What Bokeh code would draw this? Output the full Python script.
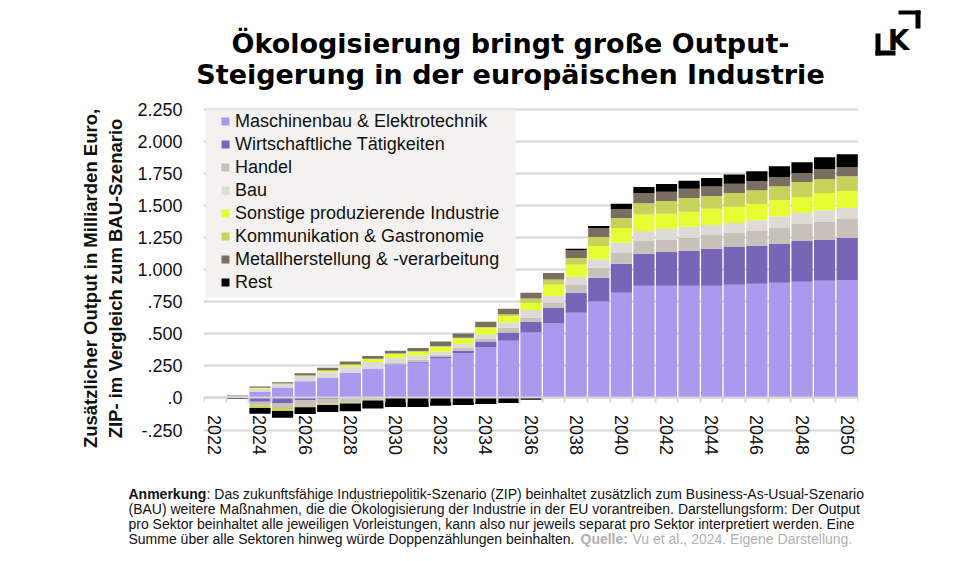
import numpy as np
from bokeh.plotting import figure
from bokeh.layouts import column
from bokeh.models import (Range1d, FixedTicker, Legend, LegendItem,
                          BoxAnnotation, ColumnDataSource)
from bokeh.core.properties import value
from bokeh.embed import file_html
from bokeh.resources import INLINE

# ---------------- data ----------------
years = list(range(2022, 2051))
label_years = list(range(2022, 2051, 2))

series_names = [
    "Maschinenbau & Elektrotechnik",
    "Wirtschaftliche Tätigkeiten",
    "Handel",
    "Bau",
    "Sonstige produzierende Industrie",
    "Kommunikation & Gastronomie",
    "Metallherstellung & -verarbeitung",
    "Rest",
]
series_colors = ["#aa99ee", "#7766b8", "#c8c1b9", "#dedad5", "#e6fd33",
                 "#c6d25a", "#7a6e63", "#000000"]

maschinenbau = [0, 0.005, 0.051, 0.082, 0.130, 0.159, 0.198, 0.229, 0.260, 0.274,
                0.310, 0.348, 0.394, 0.447, 0.510, 0.580, 0.665, 0.753, 0.820, 0.875,
                0.875, 0.875, 0.875, 0.883, 0.890, 0.898, 0.906, 0.914, 0.921]
wirtschaft = [0, 0.0, -0.030, -0.039, -0.016, -0.008, -0.003, 0.0, 0.002, 0.008,
              0.012, 0.021, 0.046, 0.063, 0.085, 0.122, 0.155, 0.184, 0.226, 0.249,
              0.264, 0.274, 0.288, 0.295, 0.296, 0.303, 0.319, 0.319, 0.327]
handel = [0, 0.004, -0.028, -0.039, -0.046, -0.037, -0.032, -0.015, 0.015, 0.015,
          0.015, 0.020, 0.022, 0.040, 0.033, 0.043, 0.062, 0.078, 0.085, 0.101,
          0.093, 0.099, 0.108, 0.109, 0.116, 0.125, 0.132, 0.140, 0.148]
bau = [0, 0.004, 0.020, 0.028, 0.042, 0.041, 0.045, 0.052, 0.035, 0.034,
       0.025, 0.032, 0.033, 0.040, 0.058, 0.050, 0.063, 0.067, 0.081, 0.077,
       0.088, 0.088, 0.078, 0.078, 0.084, 0.091, 0.086, 0.091, 0.085]
sonstige = [0, 0.0, 0.008, 0.003, 0.004, 0.014, 0.017, 0.024, 0.032, 0.031,
            0.038, 0.043, 0.052, 0.050, 0.057, 0.090, 0.095, 0.104, 0.114, 0.128,
            0.117, 0.117, 0.127, 0.127, 0.126, 0.127, 0.124, 0.134, 0.133]
kommunikation = [0, 0.0, -0.020, -0.023, -0.011, -0.010, -0.008, -0.005, 0.002, 0.003,
                 0.004, 0.005, 0.006, 0.012, 0.032, 0.038, 0.052, 0.070, 0.078, 0.088,
                 0.099, 0.106, 0.099, 0.106, 0.109, 0.108, 0.117, 0.109, 0.115]
metall = [0, 0.007, 0.010, 0.010, 0.017, 0.021, 0.024, 0.023, 0.023, 0.025,
          0.036, 0.034, 0.042, 0.043, 0.045, 0.052, 0.060, 0.070, 0.070, 0.080,
          0.072, 0.073, 0.075, 0.072, 0.070, 0.070, 0.070, 0.078, 0.071]
rest = [0, -0.008, -0.045, -0.054, -0.053, -0.055, -0.060, -0.062, -0.070, -0.070,
        -0.060, -0.055, -0.048, -0.040, -0.015, 0.0, 0.011, 0.015, 0.041, 0.047,
        0.060, 0.062, 0.065, 0.073, 0.078, 0.086, 0.085, 0.093, 0.101]

series_values = [maschinenbau, wirtschaft, handel, bau, sonstige, kommunikation, metall, rest]

y_ticks = [-0.25, 0.0, 0.25, 0.5, 0.75, 1.0, 1.25, 1.5, 1.75, 2.0, 2.25]
y_tick_labels = ["-.250", ".0", ".250", ".500", ".750", "1.000", "1.250",
                 "1.500", "1.750", "2.000", "2.250"]

title_lines = ["Ökologisierung bringt große Output-",
               "Steigerung in der europäischen Industrie"]
y_axis_title = "Zusätzlicher Output in Milliarden Euro,\nZIP- im Vergleich zum BAU-Szenario"
note_head = "Anmerkung"
note_first = ": Das zukunftsfähige Industriepolitik-Szenario (ZIP) beinhaltet zusätzlich zum Business-As-Usual-Szenario"
note_lines = [
    "(BAU) weitere Maßnahmen, die die Ökologisierung der Industrie in der EU vorantreiben. Darstellungsform: Der Output",
    "pro Sektor beinhaltet alle jeweiligen Vorleistungen, kann also nur jeweils separat pro Sektor interpretiert werden. Eine",
]
note_last = "Summe über alle Sektoren hinweg würde Doppenzählungen beinhalten."
source_head = "Quelle:"
source_text = "Vu et al., 2024. Eigene Darstellung."

# ---------------- layout constants (page px) ----------------
W = 960
TOP_H = 96            # title strip
FL, FR = 203, 858     # frame left/right
PPU = 128.2           # px per 1.000 on y
FRAME_H = 360
EXTRA_TOP = 11        # px of frame above the 2.250 grid line
GRID = "#d6d6d6"
FONT = "Liberation Sans"
TXT = "#111111"


def text_strip(height):
    f = figure(width=W, height=height, output_backend="svg", toolbar_location=None,
               x_range=Range1d(0, W), y_range=Range1d(height, 0),
               x_axis_type=None, y_axis_type=None, frame_align=False,
               min_border=0, min_border_left=0, min_border_right=0,
               min_border_top=0, min_border_bottom=0)
    f.outline_line_color = None
    f.xgrid.visible = False
    f.ygrid.visible = False
    f.border_fill_color = "white"
    return f


# ---------------- title strip ----------------
top = text_strip(TOP_H)
top.text(x=[510, 510], y=[43, 74], text=title_lines, text_font=value("DejaVu Sans"),
         text_font_style="bold", text_font_size="27px", text_align="center",
         text_baseline="alphabetic", text_color="#000000")
# logo
top.quad(left=[898, 915, 875, 875], right=[920, 920, 880, 895],
         top=[10, 10, 33, 50], bottom=[14, 28, 55, 55],
         fill_color="#000000", line_color=None)
top.text(x=[898], y=[40], text=["K"], text_font=value("DejaVu Sans"), text_font_style="bold",
         text_font_size="28px", text_align="center", text_baseline="alphabetic",
         text_color="#000000")

# ---------------- main chart ----------------
y_end = y_ticks[-1] + EXTRA_TOP / PPU
y_start = y_end - FRAME_H / PPU
p = figure(width=W, height=FRAME_H + 4, output_backend="svg", toolbar_location=None,
           x_range=Range1d(years[0] - 0.5, years[-1] + 0.5),
           y_range=Range1d(y_start, y_end), frame_align=False,
           min_border_left=FL, min_border_right=W - FR,
           min_border_top=2, min_border_bottom=2)
p.outline_line_color = None
p.background_fill_color = "white"
p.border_fill_color = "white"

x = np.array(years, dtype=float)
pos_cum = np.zeros(len(years))
neg_cum = np.zeros(len(years))
renderers = []
for name, vals, col in zip(series_names, series_values, series_colors):
    v = np.array(vals, dtype=float)
    bottom = np.where(v >= 0, pos_cum, neg_cum + v)
    topv = np.where(v >= 0, pos_cum + v, neg_cum)
    pos_cum = pos_cum + np.where(v >= 0, v, 0)
    neg_cum = neg_cum + np.where(v < 0, v, 0)
    src = ColumnDataSource(dict(x=x, bottom=bottom, top=topv))
    r = p.vbar(x="x", width=0.94, bottom="bottom", top="top", source=src,
               fill_color=col, line_color=None)
    renderers.append(r)

xax = p.xaxis[0]
xax.fixed_location = 0
xax.ticker = FixedTicker(ticks=label_years,
                         minor_ticks=[y - 0.5 for y in years] + [years[-1] + 0.5])
xax.major_tick_out = 0
xax.major_tick_in = 0
xax.minor_tick_out = 5
xax.minor_tick_in = 0
xax.minor_tick_line_color = GRID
xax.minor_tick_line_width = 2
xax.axis_line_color = GRID
xax.axis_line_width = 2
xax.major_label_orientation = "vertical"
xax.major_label_standoff = 12
xax.major_label_text_font = FONT
xax.major_label_text_font_size = "18px"
xax.major_label_text_color = TXT

yax = p.yaxis[0]
yax.ticker = FixedTicker(ticks=y_ticks)
yax.major_label_overrides = {t: l for t, l in zip(y_ticks, y_tick_labels)}
yax.axis_line_color = None
yax.major_tick_line_color = None
yax.minor_tick_line_color = None
yax.major_label_standoff = 15
yax.major_label_text_font = FONT
yax.major_label_text_font_size = "18px"
yax.major_label_text_color = TXT
yax.axis_label = y_axis_title
yax.axis_label_text_font = FONT
yax.axis_label_text_font_style = "bold"
yax.axis_label_text_font_size = "18.5px"
yax.axis_label_text_color = TXT
yax.axis_label_standoff = 8

p.xgrid.visible = False
p.ygrid.grid_line_color = GRID
p.ygrid.grid_line_width = 2

# legend (background box + transparent legend)
LEG_TOP = FRAME_H - EXTRA_TOP
p.add_layout(BoxAnnotation(left=2, right=312, top=LEG_TOP, bottom=LEG_TOP - 188,
                           left_units="screen", right_units="screen",
                           top_units="screen", bottom_units="screen",
                           fill_color="#f4f2f0", fill_alpha=1, line_alpha=0))
items = [LegendItem(label=n, renderers=[r]) for n, r in zip(series_names, renderers)]
legend = Legend(items=items, location=(17, LEG_TOP - 8 * 22 - 7 * 1 - 1), padding=0, margin=0,
                background_fill_alpha=0, border_line_alpha=0,
                glyph_width=10, glyph_height=10, label_height=22, spacing=1,
                label_standoff=5, label_text_font=FONT, label_text_font_size="18px",
                label_text_color=TXT)
p.add_layout(legend)

# ---------------- footnote strip ----------------
BOT_H = 553 - TOP_H - (FRAME_H + 4)
bot = text_strip(BOT_H)
NX = 128
NFS = "14px"
base = [33, 48, 63, 78.5]
bot.text(x=[NX], y=[base[0]], text=[note_head], text_font=value(FONT),
         text_font_style="bold", text_font_size=NFS, text_color=TXT,
         text_baseline="alphabetic")
bot.text(x=[NX + 78], y=[base[0]], text=[note_first], text_font=value(FONT),
         text_font_size=NFS, text_color=TXT, text_baseline="alphabetic")
bot.text(x=[NX, NX, NX], y=[base[1], base[2], base[3]],
         text=note_lines + [note_last], text_font=value(FONT),
         text_font_size=NFS, text_color=TXT, text_baseline="alphabetic")
bot.text(x=[NX + 452], y=[base[3]], text=[source_head], text_font=value(FONT),
         text_font_style="bold", text_font_size=NFS, text_color="#b0b0b0",
         text_baseline="alphabetic")
bot.text(x=[NX + 504], y=[base[3]], text=[source_text], text_font=value(FONT),
         text_font_size=NFS, text_color="#b0b0b0", text_baseline="alphabetic")

layout = column(top, p, bot, spacing=0)
open("out.html", "w").write(file_html(layout, INLINE))
